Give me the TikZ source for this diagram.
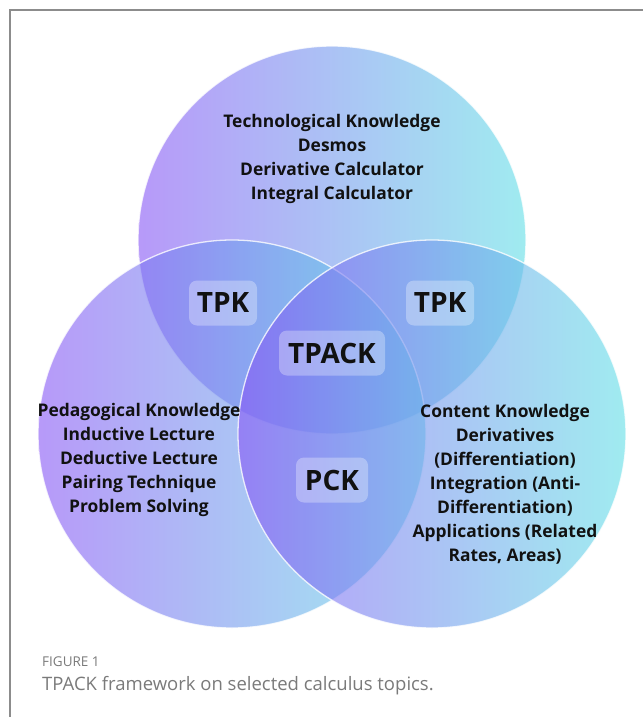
\documentclass[tikz,border=0pt]{standalone}
\usepackage{fontspec}
\setmainfont{Open Sans}
\usetikzlibrary{positioning}
\definecolor{ink}{HTML}{111111}
\definecolor{vpurple}{HTML}{8755F5}
\definecolor{vcyan}{HTML}{60DEE6}
\definecolor{framegray}{HTML}{8C8C8C}
\definecolor{capgray}{HTML}{7A7A7A}

\begin{document}
\begin{tikzpicture}[x=1pt,y=-1pt,
  venn/.style={left color=vpurple,right color=vcyan,fill opacity=0.6},
  rim/.style={draw=white,line width=1.3pt,opacity=0.8},
  txt/.style={font=\bfseries\fontsize{17.4}{24}\selectfont,align=center,text=ink,inner sep=0pt},
  tag/.style={fill=white,fill opacity=0.3,text opacity=1,rounded corners=8pt,minimum width=68pt,minimum height=45pt,font=\bfseries\fontsize{28}{32}\selectfont,text=ink},
  captxt/.style={anchor=west,inner sep=0pt,text=capgray}]
  \useasboundingbox (0,0) rectangle (643,717);
  \draw[framegray,line width=2pt] (10,717) -- (10,10) -- (643,10);
  % circle centres
  \coordinate (tech) at (332,240);
  \coordinate (ped) at (232,434);
  \coordinate (cont) at (432,434);
  \foreach \c in {tech,ped,cont}{
    \shade[venn] (\c) circle[radius=194];
    \draw[rim] (\c) circle[radius=194];
  }
  % circle texts
  \node[txt] (tk) at (332,159) {Technological Knowledge\\Desmos\\Derivative Calculator\\Integral Calculator};
  \node[txt] (pk) at (139,460) {Pedagogical Knowledge\\Inductive Lecture\\Deductive Lecture\\Pairing Technique\\Problem Solving};
  \node[txt] (ck) at (505,484) {Content Knowledge\\Derivatives\\(Differentiation)\\Integration (Anti-\\Differentiation)\\Applications (Related\\Rates, Areas)};
  % overlap tags
  \node[tag] (tpkl) at (223,303) {TPK};
  \node[tag] (tpkr) at (440,303) {TPK};
  \node[tag,minimum width=106pt] (tpack) at (332,353) {TPACK};
  \node[tag,minimum width=72pt] (pck) at (332,480) {PCK};
  % caption
  \node[captxt,font=\fontsize{13.5}{15}\selectfont] (fig) at (42,662) {FIGURE 1};
  \node[captxt,font=\fontsize{18.5}{20}\selectfont] (capt) at (42,686) {TPACK framework on selected calculus topics.};
\end{tikzpicture}
\end{document}
